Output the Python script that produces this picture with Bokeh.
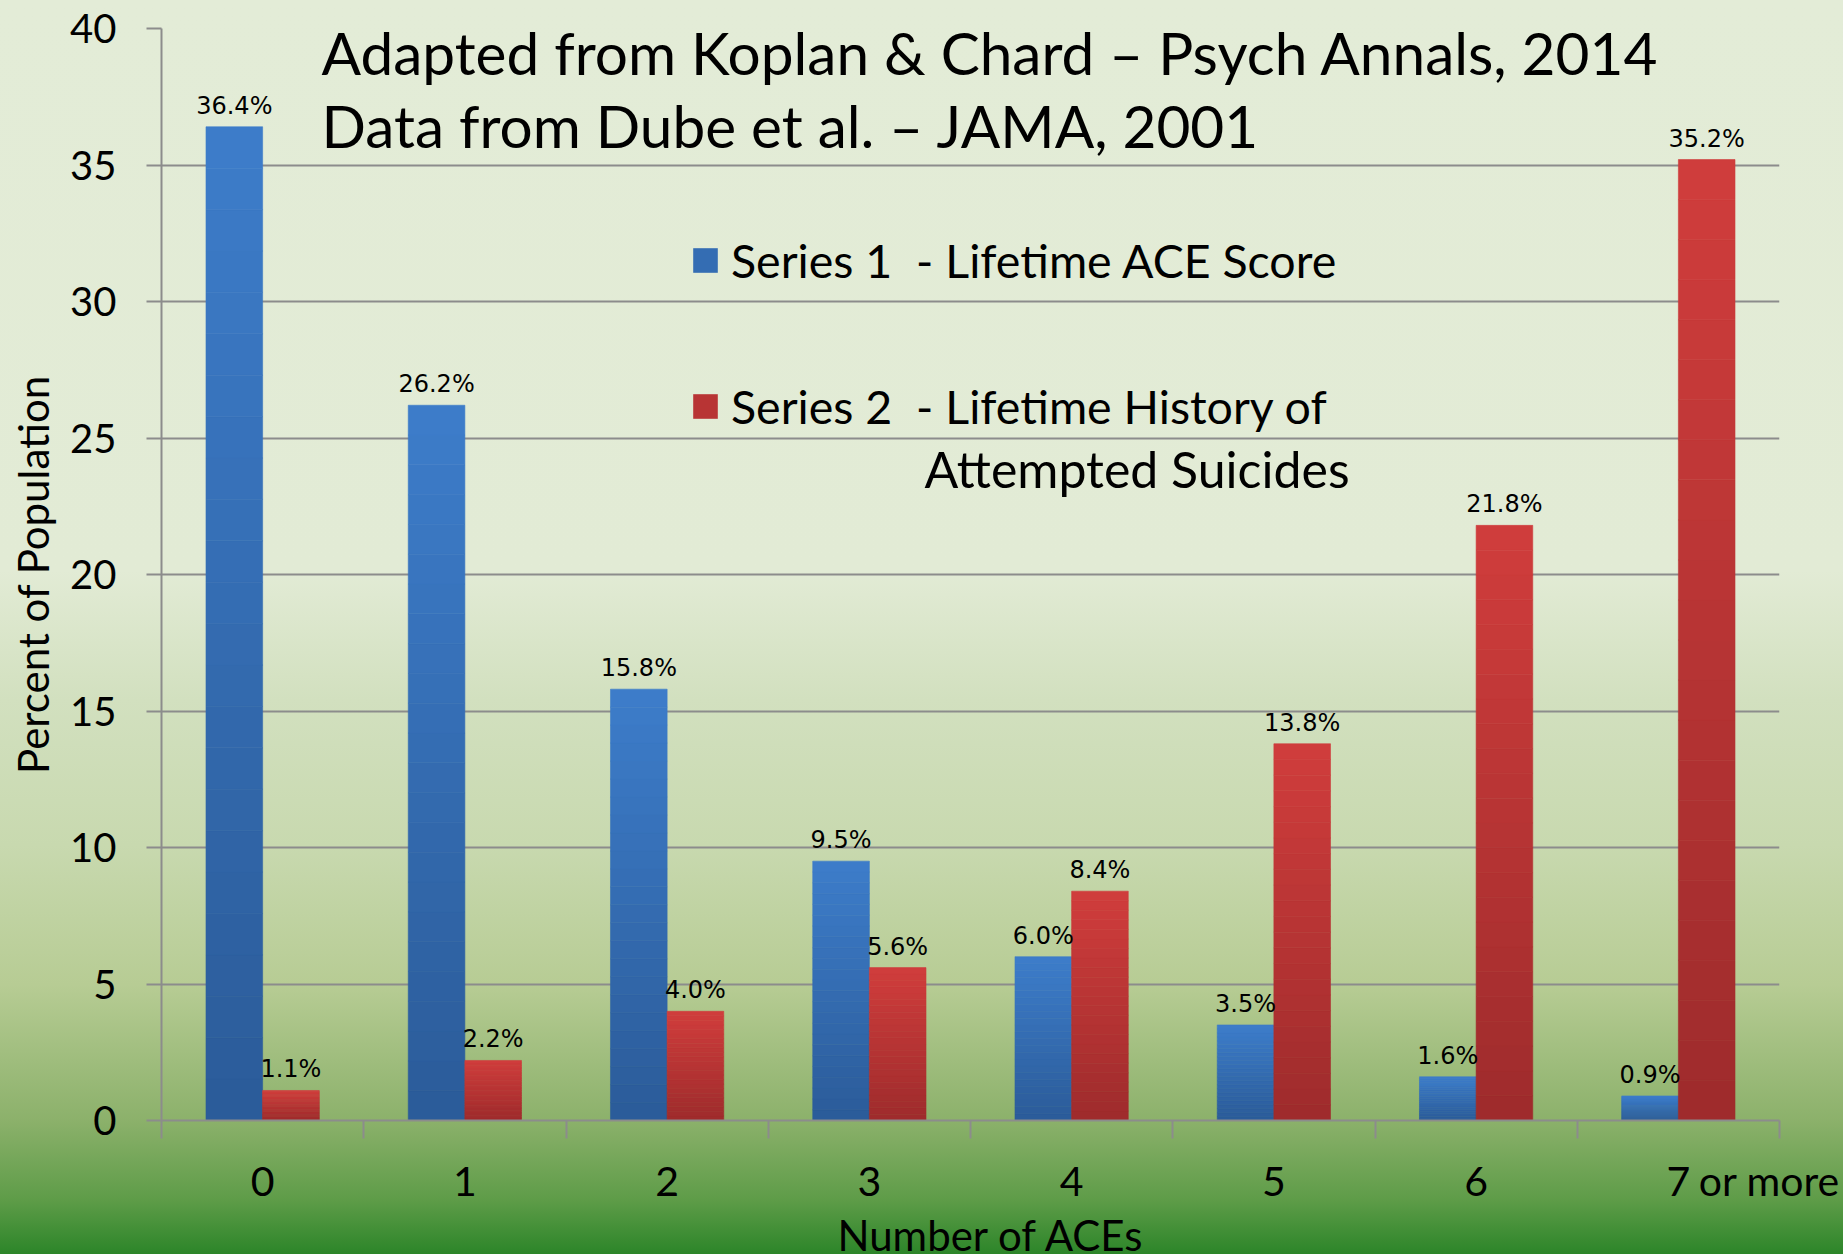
from bokeh.plotting import figure
from bokeh.models import (Range1d, LinearAxis, FixedTicker, ColumnDataSource,
                          Label, Legend, LegendItem, Title)
from bokeh.transform import dodge
from bokeh.core.properties import value
from bokeh.embed import file_html
from bokeh.resources import INLINE

# ---------------- data ----------------
categories = ["0", "1", "2", "3", "4", "5", "6", "7 or more"]
series1_ace_score = [36.4, 26.2, 15.8, 9.5, 6.0, 3.5, 1.6, 0.9]
series2_attempted_suicides = [1.1, 2.2, 4.0, 5.6, 8.4, 13.8, 21.8, 35.2]
series_labels = ["Series 1  - Lifetime ACE Score", "Series 2  - Lifetime History of"]
series2_label_line2 = "Attempted Suicides"
y_ticks = [0, 5, 10, 15, 20, 25, 30, 35, 40]
title_lines = ["Adapted from Koplan & Chard \u2013 Psych Annals, 2014",
               "Data from Dube et al. \u2013 JAMA, 2001"]
x_title = "Number of ACEs"
y_title = "Percent of Population"

# ---------------- style ----------------
FONT = "Lato"
LABEL_FONT = "DejaVu Sans"
GRAY = "#8C8C8C"
BLUE_TOP, BLUE_BOT = (0x3D, 0x7D, 0xCA), (0x2B, 0x5B, 0x99)
RED_TOP, RED_BOT = (0xD0, 0x3D, 0x3C), (0x9E, 0x2B, 0x2C)
BAR_W = 0.28
N_SLICES = 24

n = len(categories)
centers = [i + 0.5 for i in range(n)]   # category slot centres on the numeric x scale

# tick labels: number at the slot centre, trailing words ("or more") set just right of it
tick_pos, tick_text = [], []
for c, lab in zip(centers, categories):
    head, _, tail = lab.partition(" ")
    tick_pos.append(c)
    tick_text.append(head)
    if tail:
        tick_pos.append(c + 0.45)
        tick_text.append(tail)


def mix(c0, c1, t):
    return "#%02x%02x%02x" % tuple(int(round(a + (b - a) * t)) for a, b in zip(c0, c1))


def gradient_source(vals, bot, top):
    xs, b, t, col = [], [], [], []
    for c, v in zip(centers, vals):
        for k in range(N_SLICES):
            xs.append(c)
            b.append(v * k / N_SLICES)
            t.append(v * (k + 1) / N_SLICES)
            col.append(mix(bot, top, (k + 0.5) / N_SLICES))
    return ColumnDataSource(dict(x=xs, bottom=b, top=t, color=col))


p = figure(x_range=Range1d(0, n), y_range=Range1d(0, 40),
           frame_width=1618, frame_height=1092,
           min_border_left=161, min_border_right=64, min_border_top=28, min_border_bottom=0,
           x_axis_location=None, y_axis_location="left",
           output_backend="svg", toolbar_location=None,
           background_fill_alpha=0, border_fill_alpha=0, outline_line_color=None)

# page background gradient
try:
    from bokeh.models import GlobalInlineStyleSheet
    p.stylesheets = [GlobalInlineStyleSheet(css="""
html { background: linear-gradient(to bottom,
  #E3ECD7 0%, #E2EBD5 45.5%, #D2E0BF 55.8%, #C8D9AF 67.4%, #B7CC94 78.5%,
  #8CB16B 89.3%, #5E9C48 95.7%, #2C8529 100%); min-height: 100%; }
body { background: transparent; }
""")]
except Exception:
    p.styles = {"background": "linear-gradient(to bottom, #E3ECD7 0%, #E2EBD5 45%, #D2E0BF 56%, "
                              "#C8D9AF 67%, #B7CC94 79%, #8CB16B 90%, #5E9C48 96%, #2C8529 100%)"}

# grid
p.xgrid.grid_line_color = None
p.ygrid.grid_line_color = GRAY
p.ygrid.grid_line_width = 2
p.ygrid.ticker = FixedTicker(ticks=y_ticks)

# y axis
ya = p.yaxis[0]
ya.ticker = FixedTicker(ticks=y_ticks)
ya.axis_line_color = GRAY
ya.axis_line_width = 2
ya.major_tick_line_color = GRAY
ya.major_tick_line_width = 2
ya.major_tick_out = 15
ya.major_tick_in = 0
ya.minor_tick_line_color = None
ya.major_label_text_font = FONT
ya.major_label_text_font_size = "40px"
ya.major_label_text_color = "black"
ya.major_label_standoff = 30
ya.axis_label = y_title
ya.axis_label_text_font = FONT
ya.axis_label_text_font_size = "42px"
ya.axis_label_text_font_style = "normal"
ya.axis_label_text_color = "black"
ya.axis_label_standoff = 9

# x axis: ticks between categories, labels at the slot centres
xa = LinearAxis(ticker=FixedTicker(ticks=tick_pos, minor_ticks=list(range(n + 1))),
                major_label_overrides=dict(zip(tick_pos, tick_text)))
xa.axis_line_color = GRAY
xa.axis_line_width = 2
xa.major_tick_line_color = None
xa.major_tick_out = 18
xa.major_tick_in = 0
xa.minor_tick_line_color = GRAY
xa.minor_tick_line_width = 2
xa.minor_tick_out = 18
xa.minor_tick_in = 0
xa.major_label_text_font = FONT
xa.major_label_text_font_size = "41px"
xa.major_label_text_color = "black"
xa.major_label_standoff = 17
p.add_layout(xa, "below")

# x axis title, set slightly right of centre as in the original
p.add_layout(Title(text=x_title, align="left", offset=676, standoff=0,
                   text_font=FONT, text_font_size="42px", text_font_style="normal",
                   text_color="black"), "below")

# bars with vertical gradient
src1 = gradient_source(series1_ace_score, BLUE_BOT, BLUE_TOP)
src2 = gradient_source(series2_attempted_suicides, RED_BOT, RED_TOP)
r1 = p.vbar(x=dodge("x", -BAR_W / 2), width=BAR_W, bottom="bottom", top="top",
            source=src1, fill_color="color", line_color="color", line_width=0.6)
r2 = p.vbar(x=dodge("x", BAR_W / 2), width=BAR_W, bottom="bottom", top="top",
            source=src2, fill_color="color", line_color="color", line_width=0.6)

# value labels
lab1 = ColumnDataSource(dict(x=centers, y=series1_ace_score,
                             t=["%.1f%%" % v for v in series1_ace_score]))
lab2 = ColumnDataSource(dict(x=centers, y=series2_attempted_suicides,
                             t=["%.1f%%" % v for v in series2_attempted_suicides]))
for s, off in ((lab1, -BAR_W / 2), (lab2, BAR_W / 2)):
    p.text(x=dodge("x", off), y="y", text="t", source=s,
           text_font=value(LABEL_FONT), text_font_size="24px", text_color="black",
           text_align="center", text_baseline="alphabetic", y_offset=-21)

# legend
legend = Legend(items=[LegendItem(label=series_labels[0], renderers=[r1], index=N_SLICES // 2),
                       LegendItem(label=series_labels[1], renderers=[r2], index=N_SLICES // 2)],
                location=(529, 686), orientation="vertical",
                glyph_width=30, glyph_height=30, label_standoff=11, spacing=90,
                padding=0, margin=0, border_line_color=None, background_fill_alpha=0,
                label_text_font=FONT, label_text_font_size="46.5px", label_text_color="black")
p.add_layout(legend, "center")
p.add_layout(Label(x=763, y=652, x_units="screen", y_units="screen", text=series2_label_line2,
                   text_font=FONT, text_font_size="50px", text_color="black",
                   text_align="left", text_baseline="middle"))

# titles
for txt, yy in zip(title_lines, (1069, 996)):
    p.add_layout(Label(x=160, y=yy, x_units="screen", y_units="screen", text=txt,
                       text_font=FONT, text_font_size="58.5px", text_color="black",
                       text_align="left", text_baseline="alphabetic"))

open("out.html", "w").write(file_html(p, INLINE))
